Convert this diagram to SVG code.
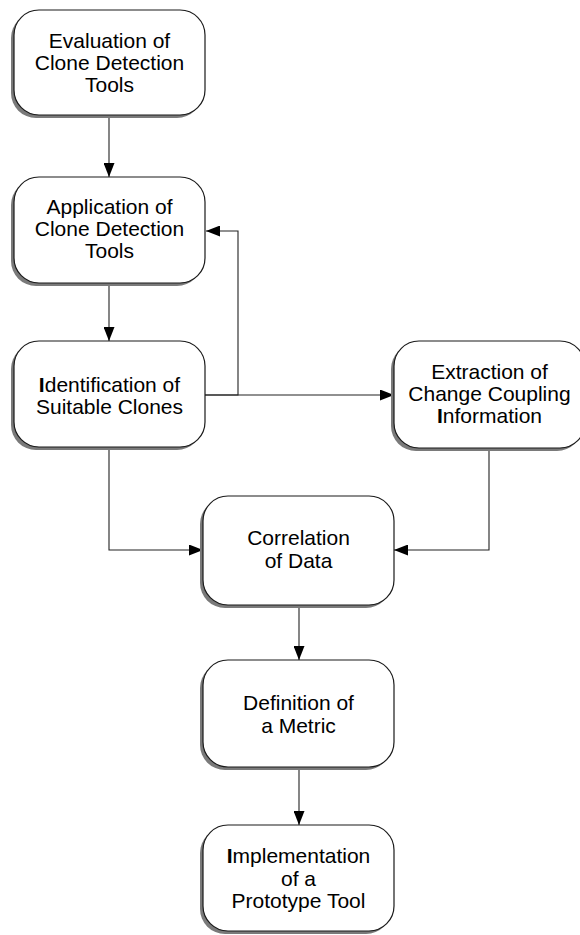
<svg xmlns="http://www.w3.org/2000/svg" width="580" height="935" viewBox="0 0 580 935">
<defs>
<style>
.sh{fill:#7a7a7a;stroke:none}
.bx{fill:#ffffff;stroke:#1a1a1a;stroke-width:1.2}
.t{font-family:"Liberation Sans",Arial,sans-serif;font-size:21px;fill:#000;text-anchor:middle}
.c{fill:none;stroke:#222;stroke-width:1.1}
</style>
<marker id="ah" viewBox="0 0 14 11" refX="14" refY="5.5" markerWidth="14" markerHeight="11" markerUnits="userSpaceOnUse" orient="auto">
<path d="M0,0 L14,5.5 L0,11 Z" fill="#000"/>
</marker>
</defs>
<rect width="580" height="935" fill="#fff"/>
<g id="connectors">
<path class="c" d="M109,115 V177" marker-end="url(#ah)"/>
<path class="c" d="M109,283 V341" marker-end="url(#ah)"/>
<path class="c" d="M205,395 H238 V231 H206" marker-end="url(#ah)"/>
<path class="c" d="M205,395 H394" marker-end="url(#ah)"/>
<path class="c" d="M109,447 V550 H203" marker-end="url(#ah)"/>
<path class="c" d="M489,448 V550 H394" marker-end="url(#ah)"/>
<path class="c" d="M299,605 V660" marker-end="url(#ah)"/>
<path class="c" d="M299,767 V825" marker-end="url(#ah)"/>
</g>
<g id="n1">
<rect class="sh" x="11" y="13" width="191" height="105" rx="25"/>
<rect class="bx" x="14" y="10" width="191" height="105" rx="25"/>
<text class="t" x="109.5" y="48">Evaluation of</text>
<text class="t" x="109.5" y="70">Clone Detection</text>
<text class="t" x="109.5" y="92">Tools</text>
</g>
<g id="n2">
<rect class="sh" x="11" y="180" width="191" height="106" rx="25"/>
<rect class="bx" x="14" y="177" width="191" height="106" rx="25"/>
<text class="t" x="109.5" y="214">Application of</text>
<text class="t" x="109.5" y="236">Clone Detection</text>
<text class="t" x="109.5" y="258">Tools</text>
</g>
<g id="n3">
<rect class="sh" x="11" y="344" width="191" height="106" rx="25"/>
<rect class="bx" x="14" y="341" width="191" height="106" rx="25"/>
<text class="t" x="109.5" y="392"><tspan font-weight="bold">I</tspan>dentification of</text>
<text class="t" x="109.5" y="414">Suitable Clones</text>
</g>
<g id="n4">
<rect class="sh" x="391" y="344" width="191" height="107" rx="25"/>
<rect class="bx" x="394" y="341" width="191" height="107" rx="25"/>
<text class="t" x="489.5" y="379">Extraction of</text>
<text class="t" x="489.5" y="401">Change Coupling</text>
<text class="t" x="489.5" y="423"><tspan font-weight="bold">I</tspan>nformation</text>
</g>
<g id="n5">
<rect class="sh" x="200" y="499" width="191" height="109" rx="25"/>
<rect class="bx" x="203" y="496" width="191" height="109" rx="25"/>
<text class="t" x="298.5" y="545">Correlation</text>
<text class="t" x="298.5" y="568">of Data</text>
</g>
<g id="n6">
<rect class="sh" x="200" y="663" width="191" height="107" rx="25"/>
<rect class="bx" x="203" y="660" width="191" height="107" rx="25"/>
<text class="t" x="298.5" y="710">Definition of</text>
<text class="t" x="298.5" y="733">a Metric</text>
</g>
<g id="n7">
<rect class="sh" x="200" y="828" width="191" height="106" rx="25"/>
<rect class="bx" x="203" y="825" width="191" height="106" rx="25"/>
<text class="t" x="298.5" y="863"><tspan font-weight="bold">I</tspan>mplementation</text>
<text class="t" x="298.5" y="886">of a</text>
<text class="t" x="298.5" y="908">Prototype Tool</text>
</g>
</svg>
